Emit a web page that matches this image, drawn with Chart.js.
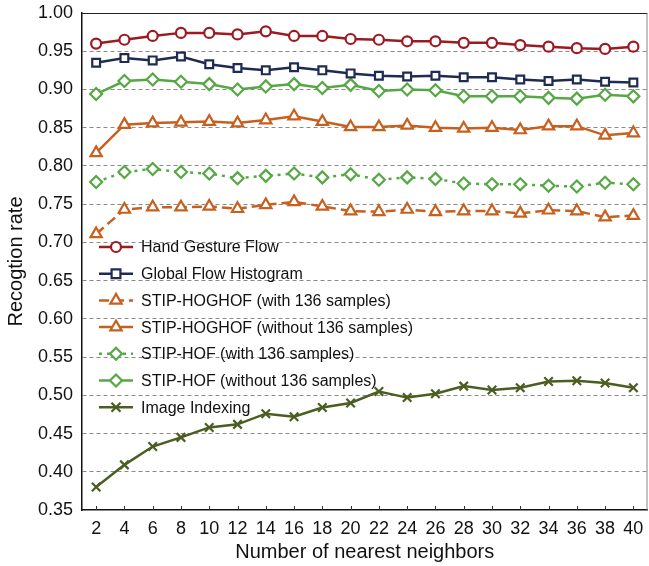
<!DOCTYPE html>
<html>
<head>
<meta charset="utf-8">
<script src="https://cdn.jsdelivr.net/npm/chart.js@4.4.1/dist/chart.umd.min.js"></script>
<style>
  html, body { margin: 0; padding: 0; background: #ffffff; }
  #c { display: block; }
</style>
</head>
<body>
<canvas id="c" width="649" height="566"></canvas>
<script>
// ---- data ----
const categories = [2,4,6,8,10,12,14,16,18,20,22,24,26,28,30,32,34,36,38,40];
const yTicks = [0.35,0.40,0.45,0.50,0.55,0.60,0.65,0.70,0.75,0.80,0.85,0.90,0.95,1.00];

const handGestureFlow = [0.960,0.965,0.970,0.974,0.974,0.972,0.976,0.970,0.970,0.966,0.965,0.963,0.963,0.961,0.961,0.958,0.956,0.954,0.953,0.956];
const globalFlowHistogram = [0.935,0.941,0.938,0.943,0.933,0.928,0.925,0.929,0.925,0.921,0.918,0.917,0.918,0.916,0.916,0.913,0.911,0.913,0.910,0.909];
const stipHoghofWith = [0.711,0.743,0.746,0.746,0.747,0.744,0.749,0.753,0.747,0.741,0.740,0.743,0.740,0.741,0.741,0.738,0.742,0.741,0.733,0.735];
const stipHoghofWithout = [0.817,0.854,0.856,0.857,0.858,0.856,0.860,0.865,0.858,0.851,0.851,0.853,0.850,0.849,0.850,0.847,0.852,0.852,0.840,0.843];
const stipHofWith = [0.779,0.792,0.796,0.792,0.790,0.784,0.787,0.790,0.785,0.789,0.782,0.785,0.783,0.777,0.776,0.776,0.774,0.773,0.778,0.776];
const stipHofWithout = [0.894,0.911,0.913,0.910,0.907,0.900,0.904,0.907,0.902,0.906,0.898,0.900,0.899,0.891,0.891,0.891,0.889,0.888,0.893,0.891];
const imageIndexing = [0.380,0.409,0.433,0.445,0.458,0.462,0.476,0.472,0.484,0.490,0.505,0.497,0.502,0.512,0.507,0.510,0.518,0.519,0.516,0.510];

const seriesLabels = [
  'Hand Gesture Flow',
  'Global Flow Histogram',
  'STIP-HOGHOF (with 136 samples)',
  'STIP-HOGHOF (without 136 samples)',
  'STIP-HOF (with 136 samples)',
  'STIP-HOF (without 136 samples)',
  'Image Indexing'
];

// ---- styles ----
const RED = '#9c1a21', NAVY = '#1f2b52', ORANGE = '#c7601f', GREEN = '#55a844', OLIVE = '#4b5e22';
const FONT = '"Liberation Sans", Arial, Helvetica, sans-serif';

function ds(label, data, color, style, radius, dash) {
  return {
    label, data,
    borderColor: color,
    backgroundColor: color,
    borderWidth: 2.5,
    borderDash: dash || [],
    pointStyle: style,
    pointRadius: radius,
    pointHoverRadius: radius,
    pointBorderWidth: 2.2,
    pointBorderColor: color,
    pointBackgroundColor: style === 'crossRot' ? color : '#ffffff',
    tension: 0,
    fill: false,
    clip: false
  };
}

const datasets = [
  ds(seriesLabels[0], handGestureFlow, RED, 'circle', 5),
  ds(seriesLabels[1], globalFlowHistogram, NAVY, 'rect', 5.5),
  ds(seriesLabels[2], stipHoghofWith, ORANGE, 'triangle', 6.5, [10, 5]),
  ds(seriesLabels[3], stipHoghofWithout, ORANGE, 'triangle', 6.5),
  ds(seriesLabels[4], stipHofWith, GREEN, 'rectRot', 6, [3, 5]),
  ds(seriesLabels[5], stipHofWithout, GREEN, 'rectRot', 6),
  ds(seriesLabels[6], imageIndexing, OLIVE, 'crossRot', 6)
];

// marker drawing for legend
function drawMarker(ctx, style, x, y, r, color) {
  ctx.save();
  ctx.setLineDash([]);
  ctx.strokeStyle = color;
  ctx.lineWidth = 2.2;
  ctx.fillStyle = '#ffffff';
  ctx.beginPath();
  if (style === 'circle') {
    ctx.arc(x, y, r, 0, Math.PI * 2);
  } else if (style === 'rect') {
    const s = r * 0.8;
    ctx.rect(x - s, y - s, 2 * s, 2 * s);
  } else if (style === 'triangle') {
    ctx.moveTo(x, y - r);
    ctx.lineTo(x + r * 0.866, y + r * 0.5);
    ctx.lineTo(x - r * 0.866, y + r * 0.5);
    ctx.closePath();
  } else if (style === 'rectRot') {
    ctx.moveTo(x, y - r);
    ctx.lineTo(x + r, y);
    ctx.lineTo(x, y + r);
    ctx.lineTo(x - r, y);
    ctx.closePath();
  } else if (style === 'crossRot') {
    const s = r * 0.75;
    ctx.moveTo(x - s, y - s); ctx.lineTo(x + s, y + s);
    ctx.moveTo(x + s, y - s); ctx.lineTo(x - s, y + s);
    ctx.stroke();
    ctx.restore();
    return;
  }
  ctx.fill();
  ctx.stroke();
  ctx.restore();
}

const framePlugin = {
  id: 'frame',
  afterDatasetsDraw(chart) {
    const {ctx, chartArea: a} = chart;
    const xs = chart.scales.x;
    ctx.save();
    // top border
    ctx.strokeStyle = '#222222';
    ctx.lineWidth = 1.2;
    ctx.beginPath();
    ctx.moveTo(a.left, a.top + 0.5);
    ctx.lineTo(a.right, a.top + 0.5);
    ctx.stroke();
    // right border
    ctx.strokeStyle = '#888888';
    ctx.lineWidth = 1;
    ctx.beginPath();
    ctx.moveTo(a.right - 0.5, a.top);
    ctx.lineTo(a.right - 0.5, a.bottom);
    ctx.stroke();
    // inward x ticks
    ctx.strokeStyle = '#333333';
    ctx.lineWidth = 1;
    for (let i = 0; i < xs.ticks.length; i++) {
      const px = Math.round(xs.getPixelForTick(i)) + 0.5;
      ctx.beginPath();
      ctx.moveTo(px, a.bottom);
      ctx.lineTo(px, a.bottom - 4);
      ctx.stroke();
    }
    ctx.restore();
  },
  afterDraw(chart) {
    const ctx = chart.ctx;
    const x0 = 99, x1 = 133, xm = 116, xt = 141;
    let y = 247;
    const step = 26.7;
    ctx.save();
    ctx.font = '16px ' + FONT;
    ctx.textBaseline = 'middle';
    ctx.textAlign = 'left';
    chart.data.datasets.forEach((d) => {
      ctx.strokeStyle = d.borderColor;
      ctx.lineWidth = 2.5;
      ctx.setLineDash(d.borderDash || []);
      ctx.beginPath();
      ctx.moveTo(x0, y);
      ctx.lineTo(x1, y);
      ctx.stroke();
      ctx.setLineDash([]);
      drawMarker(ctx, d.pointStyle, xm, y, d.pointRadius, d.borderColor);
      ctx.fillStyle = '#111111';
      ctx.fillText(d.label, xt, y + 1);
      y += step;
    });
    ctx.restore();
  }
};

new Chart(document.getElementById('c'), {
  type: 'line',
  data: { labels: categories.map(String), datasets },
  options: {
    responsive: false,
    devicePixelRatio: 1,
    animation: false,
    events: [],
    layout: { autoPadding: false, padding: { top: 13, right: 1.5, left: 0, bottom: 0 } },
    plugins: { legend: { display: false }, tooltip: { enabled: false } },
    scales: {
      x: {
        type: 'category',
        offset: true,
        grid: { display: false, drawTicks: false },
        border: { display: true, color: '#111111', width: 1.5 },
        ticks: { color: '#111111', font: { family: FONT, size: 18 }, padding: 8, maxRotation: 0, autoSkip: false },
        title: { display: true, text: 'Number of nearest neighbors', color: '#111111', font: { family: FONT, size: 20 }, padding: { top: 0, bottom: 2 } },
        afterFit(s) { s.height = 56; s.paddingLeft = 0; s.paddingRight = 0; }
      },
      y: {
        type: 'linear',
        min: 0.35,
        max: 1.0,
        afterBuildTicks(s) { s.ticks = yTicks.map(v => ({ value: v })); },
        grid: {
          drawTicks: false,
          color: (c) => (c.tick && (Math.abs(c.tick.value - 0.35) < 1e-6 || Math.abs(c.tick.value - 1.0) < 1e-6)) ? 'rgba(0,0,0,0)' : '#8a8a8a',
          lineWidth: 1
        },
        border: { display: true, color: '#111111', width: 1.5, dash: [4, 3] },
        ticks: { color: '#111111', font: { family: FONT, size: 18 }, padding: 9, callback: (v) => Number(v).toFixed(2) },
        title: { display: true, text: 'Recogtion rate', color: '#111111', font: { family: FONT, size: 20 }, padding: { top: 4, bottom: 0 } },
        afterFit(s) { s.width = 82; s.paddingTop = 0; s.paddingBottom = 0; }
      }
    }
  },
  plugins: [framePlugin]
});
</script>
</body>
</html>
